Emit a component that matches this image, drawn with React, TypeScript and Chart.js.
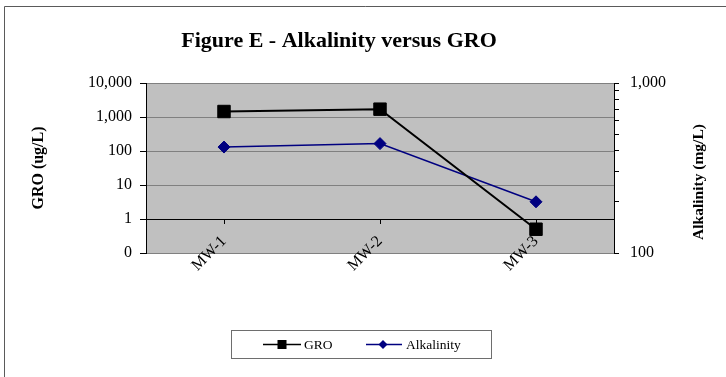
import React, { useEffect, useRef } from 'react';
import { Chart, registerables } from 'chart.js';

Chart.register(...registerables);

const categories = ['MW-1', 'MW-2', 'MW-3'];
const groValues = [1450, 1700, 0.5];
const alkalinityValues = [420, 440, 200];
const groTicks = [0.1, 1, 10, 100, 1000, 10000];
const alkalinityTicks = [100, 200, 300, 400, 500, 600, 700, 800, 900, 1000];
const alkalinityLabeled = [100, 1000];
const titleText = 'Figure E - Alkalinity versus GRO';
const leftTitle = 'GRO (ug/L)';
const rightTitle = 'Alkalinity (mg/L)';
const seriesNames = ['GRO', 'Alkalinity'];

const SERIF = '"Liberation Serif", "Times New Roman", serif';
const W = 726;
const H = 377;

const decorPlugin = {
  id: 'decor',
  beforeDraw(chart: any) {
    const { ctx, chartArea: a } = chart;
    ctx.save();
    ctx.fillStyle = '#ffffff';
    ctx.fillRect(0, 0, chart.width, chart.height);
    ctx.fillStyle = '#c0c0c0';
    ctx.fillRect(a.left, a.top, a.right - a.left, a.bottom - a.top);
    ctx.strokeStyle = '#5a5a5a';
    ctx.lineWidth = 1;
    ctx.beginPath();
    ctx.moveTo(4.5, chart.height);
    ctx.lineTo(4.5, 6.5);
    ctx.lineTo(chart.width, 6.5);
    ctx.stroke();
    ctx.restore();
  },
  afterDraw(chart: any) {
    const { ctx } = chart;
    ctx.save();
    ctx.fillStyle = '#000';
    // title
    ctx.font = `bold 22px ${SERIF}`;
    ctx.textAlign = 'center';
    ctx.textBaseline = 'alphabetic';
    ctx.fillText(titleText, 339, 47);
    // axis titles
    ctx.textBaseline = 'middle';
    ctx.save();
    ctx.font = `bold 16px ${SERIF}`;
    ctx.translate(39, 168);
    ctx.rotate(-Math.PI / 2);
    ctx.fillText(leftTitle, 0, 0);
    ctx.restore();
    ctx.save();
    ctx.font = `bold 15.5px ${SERIF}`;
    ctx.translate(699, 182);
    ctx.rotate(-Math.PI / 2);
    ctx.fillText(rightTitle, 0, 0);
    ctx.restore();
    // legend
    ctx.strokeStyle = '#6e6e6e';
    ctx.lineWidth = 1;
    ctx.strokeRect(231.5, 330.5, 260, 28);
    const ly = 344.5;
    const ds = chart.data.datasets;
    const items = [
      { x0: 263, x1: 301, mx: 282, tx: 304 },
      { x0: 366, x1: 402, mx: 383, tx: 406 },
    ];
    items.forEach((it, i) => {
      const d = ds[i];
      ctx.strokeStyle = d.borderColor;
      ctx.lineWidth = 1.5;
      ctx.beginPath();
      ctx.moveTo(it.x0, ly);
      ctx.lineTo(it.x1, ly);
      ctx.stroke();
      ctx.fillStyle = d.pointBackgroundColor;
      if (i === 0) {
        ctx.fillRect(it.mx - 4.5, ly - 4.5, 9, 9);
      } else {
        ctx.beginPath();
        ctx.moveTo(it.mx, ly - 4.5);
        ctx.lineTo(it.mx + 4.5, ly);
        ctx.lineTo(it.mx, ly + 4.5);
        ctx.lineTo(it.mx - 4.5, ly);
        ctx.closePath();
        ctx.fill();
      }
      ctx.fillStyle = '#000';
      ctx.font = `13.5px ${SERIF}`;
      ctx.textAlign = 'left';
      ctx.textBaseline = 'middle';
      ctx.fillText(seriesNames[i], it.tx, ly + 0.5);
    });
    ctx.restore();
  },
};

export default function App() {
  const ref = useRef<HTMLCanvasElement | null>(null);

  useEffect(() => {
    if (!ref.current) return;
    const chart = new Chart(ref.current, {
      type: 'line',
      data: {
        labels: categories,
        datasets: [
          {
            label: seriesNames[0],
            data: groValues,
            yAxisID: 'y',
            borderColor: '#000000',
            backgroundColor: '#000000',
            pointBackgroundColor: '#000000',
            pointBorderColor: '#000000',
            borderWidth: 2,
            pointStyle: 'rect',
            pointRadius: 8.8,
            pointBorderWidth: 1,
            tension: 0,
          },
          {
            label: seriesNames[1],
            data: alkalinityValues,
            yAxisID: 'y1',
            borderColor: '#000080',
            backgroundColor: '#000080',
            pointBackgroundColor: '#000080',
            pointBorderColor: '#000080',
            borderWidth: 1.5,
            pointStyle: 'rectRot',
            pointRadius: 6,
            pointBorderWidth: 1,
            tension: 0,
          },
        ],
      },
      options: {
        responsive: false,
        animation: false,
        layout: { padding: { left: 0, right: 0, top: 83, bottom: 124 } },
        plugins: {
          legend: { display: false },
          title: { display: false },
          tooltip: { enabled: false },
        },
        scales: {
          x: {
            type: 'category',
            position: { y: 1 } as any,
            offset: true,
            grid: {
              offset: false,
              drawOnChartArea: false,
              drawTicks: true,
              tickLength: 4,
              tickColor: '#000',
            },
            border: { display: true, color: '#000', width: 1 },
            ticks: {
              color: '#000',
              font: { family: SERIF, size: 16 },
              minRotation: 45,
              maxRotation: 45,
              padding: 9,
              autoSkip: false,
            },
          },
          y: {
            type: 'logarithmic',
            position: 'left',
            min: 0.1,
            max: 10000,
            afterBuildTicks: (scale: any) => {
              scale.ticks = groTicks.map((v) => ({ value: v }));
            },
            afterFit: (scale: any) => {
              scale.width = 146;
            },
            grid: {
              color: (c: any) => (c.tick && c.tick.value === 1 ? '#000000' : '#808080'),
              lineWidth: 1,
              tickLength: 6,
              tickColor: '#000',
            },
            border: { display: true, color: '#000', width: 1 },
            ticks: {
              color: '#000',
              font: { family: SERIF, size: 16 },
              padding: 8,
              callback: (v: any) => (Number(v) === 0.1 ? '0' : Number(v).toLocaleString('en-US')),
            },
          },
          y1: {
            type: 'logarithmic',
            position: 'right',
            min: 100,
            max: 1000,
            afterBuildTicks: (scale: any) => {
              scale.ticks = alkalinityTicks.map((v) => ({ value: v }));
            },
            afterFit: (scale: any) => {
              scale.width = W - 614;
            },
            grid: {
              drawOnChartArea: false,
              tickLength: 5,
              tickColor: '#000',
            },
            border: { display: true, color: '#000', width: 1 },
            ticks: {
              color: '#000',
              font: { family: SERIF, size: 16 },
              padding: 11,
              autoSkip: false,
              callback: (v: any) =>
                alkalinityLabeled.includes(Number(v)) ? Number(v).toLocaleString('en-US') : '',
            },
          },
        },
      },
      plugins: [decorPlugin],
    });
    return () => chart.destroy();
  }, []);

  return (
    <div style={{ position: 'absolute', left: 0, top: 0, width: W, height: H, background: '#fff' }}>
      <canvas ref={ref} width={W} height={H} style={{ display: 'block', width: W, height: H }} />
    </div>
  );
}
